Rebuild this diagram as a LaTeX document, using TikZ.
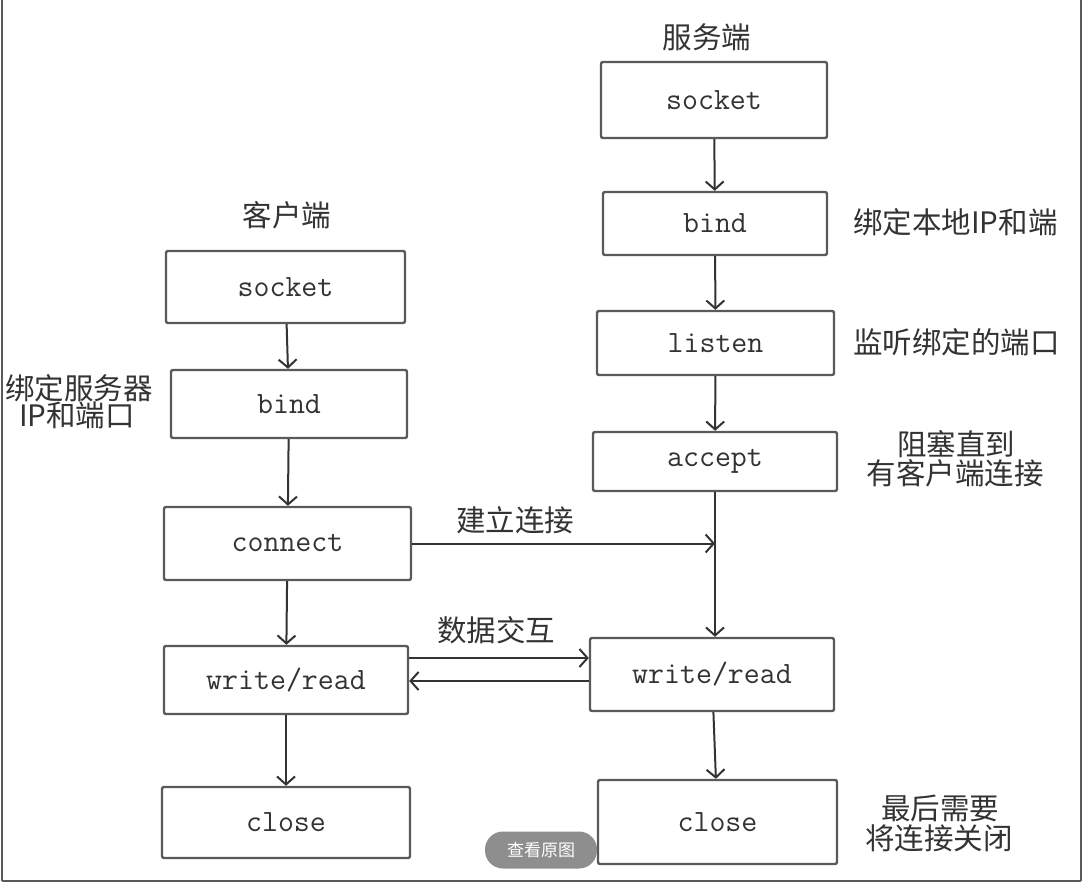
\documentclass[tikz,border=0pt]{standalone}
\usepackage{fontspec}
\newfontfamily\cjk{Noto Sans CJK SC}
\usetikzlibrary{arrows.meta}
\definecolor{boxgray}{HTML}{5A5A5A}
\definecolor{linegray}{HTML}{333333}
\definecolor{txt}{HTML}{333333}
\definecolor{btn}{HTML}{8E8E8E}
\begin{document}
\begin{tikzpicture}[x=1pt,y=-1pt,
  box/.style={draw=boxgray, line width=2.4pt, rounded corners=2pt, fill=white,
    font=\ttfamily\fontsize{31}{33}\selectfont, text=txt, inner sep=0pt},
  arr/.style={draw=linegray, line width=2pt,
    -{Straight Barb[length=8pt,width=18pt,line width=2pt]}},
  lab/.style={font=\cjk\fontsize{29.5}{32}\selectfont, text=txt, inner sep=0pt},
  frame/.style={draw=boxgray, line width=2pt}]
\useasboundingbox (0,0) rectangle (1083,882);
\fill[white] (0,0) rectangle (1083,882);
% frame lines
\coordinate (fl1) at (1.5,0); \coordinate (fl2) at (1.5,881);
\coordinate (fr1) at (1081,0); \coordinate (fr2) at (1081,881);
\draw[frame] (fl1) -- (fl2);
\draw[frame] (fr1) -- (fr2);
\draw[frame] (fl2) -- (fr2);
% titles
\node[lab] (tc) at (287,215) {客户端};
\node[lab] (ts) at (707,37) {服务端};
% client boxes
\node[box, minimum width=239pt, minimum height=72pt] (cs) at (285.5,287) {socket};
\node[box, minimum width=236pt, minimum height=68pt] (cb) at (289,404) {bind};
\node[box, minimum width=247pt, minimum height=73pt] (cc) at (287.5,543.5) {connect};
\node[box, minimum width=244pt, minimum height=68pt] (cw) at (286,680) {write/read};
\node[box, minimum width=248pt, minimum height=71pt] (cx) at (286,822.5) {close};
% server boxes
\node[box, minimum width=226pt, minimum height=76pt] (ss) at (714,100) {socket};
\node[box, minimum width=224pt, minimum height=63pt] (sb) at (715,223.5) {bind};
\node[box, minimum width=237pt, minimum height=64pt] (sl) at (715.5,343) {listen};
\node[box, minimum width=244pt, minimum height=59pt] (sa) at (715,461.5) {accept};
\node[box, minimum width=244pt, minimum height=73pt] (sw) at (712,674.5) {write/read};
\node[box, minimum width=239pt, minimum height=84pt] (sx) at (717.5,822) {close};
% client arrows
\draw[arr] (cs) -- (cb);
\draw[arr] (cb) -- (cc);
\draw[arr] (cc) -- (cw);
\draw[arr] (cw) -- (cx);
% server arrows
\draw[arr] (ss) -- (sb);
\draw[arr] (sb) -- (sl);
\draw[arr] (sl) -- (sa);
\draw[arr] (sa.south) -- (sa.south |- sw.north);
\draw[arr] (sw) -- (sx);
% connect arrow
\coordinate (j) at (sa.south |- cc.east);
\draw[arr] (cc.east) -- (j);
\node[lab] (l1) at (515,520) {建立连接};
% data exchange
\draw[arr] (cw.east |- 0,658) -- (sw.west |- 0,658);
\draw[arr] (sw.west |- 0,681) -- (cw.east |- 0,681);
\node[lab] (l2) at (496,630) {数据交互};
% side labels
\node[lab] (n1) at (79,388) {绑定服务器};
\node[lab] (n2) at (77,415) {IP和端口};
\node[lab, anchor=west] (n3) at (853,222) {绑定本地IP和端};
\node[lab, anchor=west] (n4) at (853,342) {监听绑定的端口};
\node[lab] (n5) at (956,444) {阻塞直到};
\node[lab] (n6) at (955,473) {有客户端连接};
\node[lab] (n7) at (940,808) {最后需要};
\node[lab] (n8) at (939,838) {将连接关闭};
% overlay button
\node[fill=btn, rounded corners=18pt, minimum width=112pt, minimum height=37pt,
  inner sep=0pt, text=white, font=\cjk\fontsize{17}{19}\selectfont] (bt) at (541,850) {查看原图};
\end{tikzpicture}
\end{document}
